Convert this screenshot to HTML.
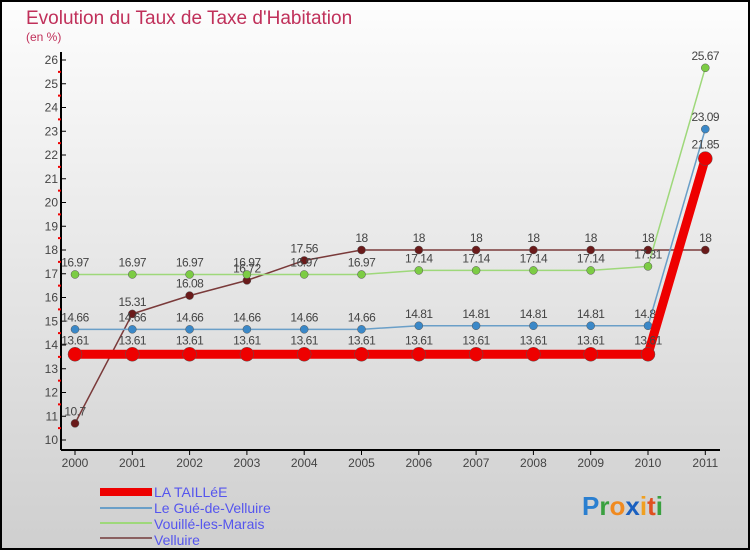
<!DOCTYPE html>
<html><head><meta charset="utf-8"><style>
html,body{margin:0;padding:0;}
body{width:750px;height:550px;overflow:hidden;font-family:"Liberation Sans",sans-serif;}
</style></head><body>
<svg width="750" height="550" viewBox="0 0 750 550" id="chart">
<defs><linearGradient id="bg" x1="0" y1="0" x2="0" y2="1"><stop offset="0" stop-color="#fdfdfd"/><stop offset="1" stop-color="#cfcfcf"/></linearGradient></defs>
<rect x="1" y="1" width="748" height="548" fill="url(#bg)" stroke="#000" stroke-width="2"/>
<text x="26" y="24" font-size="19" fill="#c0305a">Evolution du Taux de Taxe d'Habitation</text>
<text x="26" y="41" font-size="12" fill="#c0305a">(en %)</text>
<g id="axes"></g><g id="series"></g>
<g font-size="14" fill="#5555ee">
<rect x="100" y="488" width="52" height="8" fill="#ee0000"/>
<text x="154" y="497">LA TAILLéE</text>
<rect x="100" y="507" width="52" height="2" fill="#6a9fc8"/>
<text x="154" y="513">Le Gué-de-Velluire</text>
<rect x="100" y="522" width="52" height="2" fill="#9ed87a"/>
<text x="154" y="529">Vouillé-les-Marais</text>
<rect x="100" y="537" width="52" height="2" fill="#8a6060"/>
<text x="154" y="545">Velluire</text>
</g>
<g font-size="26" font-weight="bold">
<text x="582" y="515"><tspan fill="#2a7fd0">P</tspan><tspan fill="#3aa040">r</tspan><tspan fill="#f08a20">o</tspan><tspan fill="#1a60c0">x</tspan><tspan fill="#f0a020">i</tspan><tspan fill="#e05020">t</tspan><tspan fill="#3aa040">i</tspan></text>
</g>
</svg>
<script>
const years=[2000,2001,2002,2003,2004,2005,2006,2007,2008,2009,2010,2011];
const taillee=[13.61,13.61,13.61,13.61,13.61,13.61,13.61,13.61,13.61,13.61,13.61,21.85];
const gue=[14.66,14.66,14.66,14.66,14.66,14.66,14.81,14.81,14.81,14.81,14.81,23.09];
const vouille=[16.97,16.97,16.97,16.97,16.97,16.97,17.14,17.14,17.14,17.14,17.31,25.67];
const velluire=[10.7,15.31,16.08,16.72,17.56,18,18,18,18,18,18,18];
const yTicks=[10,11,12,13,14,15,16,17,18,19,20,21,22,23,24,25,26];
const NS="http://www.w3.org/2000/svg";
function x(i){return 75+i*57.3;}
function y(v){return 440-(v-10)*23.75;}
function mk(tag,attrs,parent){const e=document.createElementNS(NS,tag);for(const k in attrs)e.setAttribute(k,attrs[k]);parent.appendChild(e);return e;}
const ax=document.getElementById('axes');
let l=mk('line',{x1:61,y1:52,x2:61,y2:450,stroke:'#000','stroke-width':2},ax);


l=mk('line',{x1:61,y1:450,x2:720,y2:450,stroke:'#000','stroke-width':2},ax);


yTicks.forEach(v=>{
 mk('line',{x1:61,y1:y(v),x2:66,y2:y(v),stroke:'#000'},ax);
 if(v<26) mk('line',{x1:58,y1:y(v+0.5),x2:61,y2:y(v+0.5),stroke:'#e00','stroke-width':2},ax);
 const t=mk('text',{x:58,y:y(v)+4,'text-anchor':'end','font-size':12,fill:'#444'},ax);
 t.textContent=v;
 
 
});
years.forEach((yr,i)=>{
 mk('line',{x1:x(i),y1:450,x2:x(i),y2:455,stroke:'#000'},ax);
 const t=mk('text',{x:x(i),y:467,'text-anchor':'middle','font-size':12,fill:'#444'},ax);
 t.textContent=yr;
 
 
});
const sg=document.getElementById('series');
function series(name,vals,col,lw,r,dot){
 const g=mk('g',{},sg);
 
 
 const p=mk('polyline',{points:vals.map((v,i)=>x(i)+','+y(v)).join(' '),fill:'none',stroke:col,'stroke-width':lw,'stroke-linejoin':'round'},g);
 
 
 vals.forEach((v,i)=>{
  const c=mk('circle',{cx:x(i),cy:y(v),r:r,fill:dot,stroke:'#555','stroke-width':0.5},g);
  
  
  const t=mk('text',{x:x(i),y:y(v)-8-(r>5?2:0),'text-anchor':'middle','font-size':12,fill:'#444','letter-spacing':'-0.5'},g);
  t.textContent=String(v);
  
  
 });
}
series('velluire',velluire,'#7a3a3a',1.5,4,'#6a1a1a');
series('vouille',vouille,'#9ed87a',1.5,4,'#7ccc44');
series('gue',gue,'#6a9fc8',1.5,4,'#3a88c8');
series('la-taillee',taillee,'#ee0000',9,7,'#ee0000');
</script>
</body></html>
